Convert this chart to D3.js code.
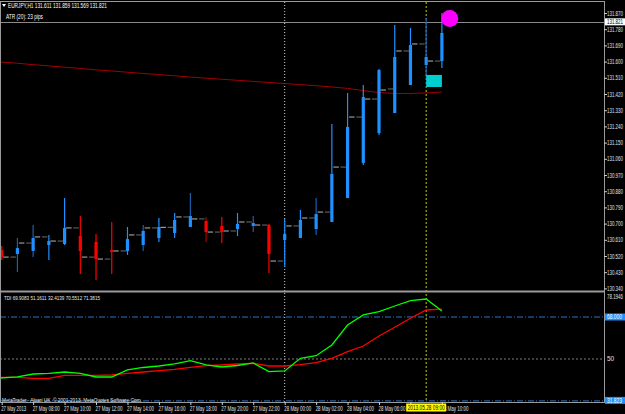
<!DOCTYPE html>
<html>
<head>
<meta charset="utf-8">
<script src="https://cdn.jsdelivr.net/npm/d3@7"></script>
<style>
  body { margin: 0; background: #000; }
  svg { display: block; font-family: "Liberation Sans", Arial, sans-serif; }
</style>
</head>
<body>
<script>
// EURJPY H1, 27 May 06:00 .. 28 May 10:00
const opens  = [130.553,130.514,130.592,130.626,130.603,130.676,130.514,130.503,130.548,130.637,130.676,130.679,130.737,130.726,130.653,130.659,130.709,130.692,130.492,130.687,130.731,130.764,131.014,131.292,131.392,131.448,131.659,131.698,131.603];
const highs  = [130.576,130.620,130.692,130.637,130.842,130.742,130.642,130.709,130.681,130.692,130.731,130.759,130.870,130.737,130.737,130.759,130.742,130.698,130.726,130.776,130.842,131.253,131.426,131.470,131.559,131.803,131.787,131.842,131.870];
const lows   = [130.498,130.431,130.514,130.498,130.581,130.420,130.387,130.420,130.526,130.548,130.598,130.620,130.681,130.598,130.592,130.631,130.653,130.426,130.459,130.620,130.637,130.709,130.842,131.026,131.192,131.314,131.470,131.514,131.564];
const closes = [130.514,130.592,130.626,130.603,130.676,130.514,130.503,130.548,130.637,130.676,130.679,130.737,130.726,130.653,130.659,130.709,130.692,130.492,130.687,130.731,130.764,131.014,131.292,131.392,131.442,131.659,131.698,131.603,131.821];
// heiken ashi style bodies drawn over the bars
const haOpens  = [130.553,130.531,130.548,130.581,130.587,130.631,130.598,130.553,130.548,130.581,130.620,130.648,130.681,130.714,130.687,130.670,130.687,130.692,130.609,130.620,130.670,130.709,130.842,131.037,131.203,131.314,131.470,131.581,131.603];
const haCloses = [130.514,130.564,130.620,130.603,130.676,130.548,130.503,130.542,130.614,130.659,130.681,130.720,130.742,130.653,130.653,130.698,130.703,130.531,130.642,130.720,130.753,130.976,131.237,131.403,131.553,131.626,131.692,131.626,131.759];
const darkWick = [0,1,1,0,0,0,0,0,0,1,0,0,1,1,0,0,1,0,0,0,1,0,0,0,0,0,0,1,0];
const maValues = [131.598,131.591,131.583,131.576,131.569,131.562,131.554,131.548,131.541,131.534,131.528,131.521,131.514,131.508,131.502,131.496,131.490,131.484,131.478,131.472,131.466,131.459,131.451,131.439,131.428,131.423,131.423,131.426,131.431];

// TDI panel
const tdiGreen = [41.86,42.29,43.57,43.87,44.43,43.79,42.29,42.29,45.29,46.36,47.00,47.86,49.27,47.43,46.57,47.21,48.29,44.56,44.86,50.30,51.41,56.00,64.57,68.86,70.27,72.71,74.99,75.71,70.55];
const tdiRed   = [42.16,42.16,41.73,41.73,43.01,43.01,43.01,43.14,43.87,44.43,44.99,45.58,46.44,47.13,47.43,47.86,48.16,47.00,47.00,47.56,48.41,50.30,53.13,55.57,59.86,63.59,67.44,71.00,71.38];

const priceTicks = [131.870,131.780,131.690,131.600,131.510,131.420,131.330,131.240,131.150,131.060,130.970,130.880,130.790,130.700,130.610,130.520,130.430,130.340];
// 08:00 on the 28th sits under the cursor label, so it stays blank
const xTickLabels = ["27 May 2013","27 May 08:00","27 May 10:00","27 May 12:00","27 May 14:00","27 May 16:00","27 May 18:00","27 May 20:00","27 May 22:00","28 May 00:00","28 May 02:00","28 May 04:00","28 May 06:00","","28 May 10:00"];
const lastPrice = 131.821;
const daySepIndex = 18;
const cursorIndex = 27;
const cursorLabel = "2013.05.28 09:00";
const tdiMax = 78.1946, tdiMin = 31.823, tdiUpper = 68.0, tdiMid = 50;

const width = 625, height = 414;
const plotRight = 604;

const svg = d3.select("body").append("svg")
  .attr("width", width).attr("height", height);
svg.append("rect").attr("width", width).attr("height", height).attr("fill", "#000");

const x = d3.scaleLinear().domain([0, 28]).range([1.7, 441.9]);
const y = d3.scaleLinear().domain([130.340, 131.870]).range([288.4, 13]);
const yT = d3.scaleLinear().domain([tdiMin, tdiMax]).range([401.4, 293.2]);

// squeeze a text to the width the terminal font takes
const fit = (sel, w) => sel.attr("textLength", w).attr("lengthAdjust", "spacingAndGlyphs");

const defs = svg.append("defs");
defs.append("clipPath").attr("id", "cmain").append("rect")
  .attr("x", 0).attr("y", 2).attr("width", plotRight).attr("height", 289);
defs.append("clipPath").attr("id", "cind").append("rect")
  .attr("x", 0).attr("y", 293).attr("width", plotRight).attr("height", 109);

// vertical separators (day + cursor)
svg.append("line")
  .attr("x1", x(daySepIndex)).attr("x2", x(daySepIndex))
  .attr("y1", 2).attr("y2", 402)
  .attr("stroke", "#d0d0d0").attr("stroke-dasharray", "1,2");
svg.append("line")
  .attr("x1", x(cursorIndex)).attr("x2", x(cursorIndex))
  .attr("y1", 2).attr("y2", 402)
  .attr("stroke", "#c8c800").attr("stroke-dasharray", "2,2");

const main = svg.append("g").attr("clip-path", "url(#cmain)");

// bid line
main.append("line")
  .attr("x1", 0).attr("x2", plotRight)
  .attr("y1", Math.round(y(lastPrice)) + 0.5).attr("y2", Math.round(y(lastPrice)) + 0.5)
  .attr("stroke", "#8a8a8a");

// moving average
main.append("path")
  .datum(maValues)
  .attr("fill", "none").attr("stroke", "#a00000").attr("stroke-width", 1)
  .attr("d", d3.line().x((d, i) => i === 0 ? 0 : x(i)).y(d => y(d)));

const idx = d3.range(opens.length);

// open / close ticks
main.append("g").selectAll("line").data(idx).join("line")
  .attr("x1", i => x(i) - 7).attr("x2", i => x(i) - 1.5)
  .attr("y1", i => y(opens[i])).attr("y2", i => y(opens[i]))
  .attr("stroke", "#5a5a5a").attr("stroke-width", 1.2);
main.append("g").selectAll("line").data(idx).join("line")
  .attr("x1", i => x(i) + 1.5).attr("x2", i => x(i) + 7)
  .attr("y1", i => y(closes[i])).attr("y2", i => y(closes[i]))
  .attr("stroke", "#9a9a9a").attr("stroke-width", 1.2);

const up = i => haCloses[i] >= haOpens[i];

// wicks
main.append("g").selectAll("line").data(idx).join("line")
  .attr("x1", i => x(i)).attr("x2", i => x(i))
  .attr("y1", i => y(highs[i])).attr("y2", i => y(lows[i]))
  .attr("stroke", i => up(i) ? (darkWick[i] ? "#1a5fb0" : "#1e90ff") : (darkWick[i] ? "#b00000" : "#ff0000"))
  .attr("stroke-width", 1.2);

// bodies
main.append("g").selectAll("rect").data(idx).join("rect")
  .attr("x", i => x(i) - 1.6).attr("width", 3.2)
  .attr("y", i => y(Math.max(haOpens[i], haCloses[i])))
  .attr("height", i => Math.max(1, Math.abs(y(haOpens[i]) - y(haCloses[i]))))
  .attr("fill", i => up(i) ? "#1e90ff" : "#ff0000");

// chart objects
main.append("rect")
  .attr("x", x(27)).attr("width", x(28) - x(27))
  .attr("y", y(131.526)).attr("height", y(131.459) - y(131.526))
  .attr("fill", "#00ced1");
main.append("circle")
  .attr("cx", x(28.5)).attr("cy", y(131.839)).attr("r", 8.5)
  .attr("fill", "#ff00ff");

// header texts
svg.append("path").attr("d", "M2,4 L6,4 L4,7 Z").attr("fill", "#fff");
svg.append("text").attr("x", 8).attr("y", 7.5).attr("font-size", 6.5).attr("fill", "#fff")
  .text("EURJPY,H1  131.611 131.859 131.569 131.821").call(fit, 99);
svg.append("text").attr("x", 6).attr("y", 19).attr("font-size", 6.5).attr("fill", "#fff")
  .text("ATR (20):    23 pips").call(fit, 37);

// indicator panel
const ind = svg.append("g").attr("clip-path", "url(#cind)");
ind.append("line")
  .attr("x1", 0).attr("x2", plotRight).attr("y1", yT(tdiUpper)).attr("y2", yT(tdiUpper))
  .attr("stroke", "#2f73c0").attr("stroke-dasharray", "6,2,1,2");
ind.append("line")
  .attr("x1", 0).attr("x2", plotRight).attr("y1", yT(tdiMid)).attr("y2", yT(tdiMid))
  .attr("stroke", "#808080").attr("stroke-dasharray", "2,2");
ind.append("line")
  .attr("x1", 0).attr("x2", plotRight).attr("y1", yT(tdiMin) - 0.5).attr("y2", yT(tdiMin) - 0.5)
  .attr("stroke", "#2f73c0").attr("stroke-dasharray", "6,2,1,2");

const tline = d3.line().x((d, i) => i === 0 ? 0 : x(i)).y(d => yT(d));
ind.append("path").datum(tdiRed)
  .attr("fill", "none").attr("stroke", "#ff0000").attr("stroke-width", 1.3).attr("d", tline);
ind.append("path").datum(tdiGreen)
  .attr("fill", "none").attr("stroke", "#00ff00").attr("stroke-width", 1.3).attr("d", tline);

svg.append("text").attr("x", 4).attr("y", 299.5).attr("font-size", 6).attr("fill", "#e8e8e8")
  .text("TDI 69.9083 51.1611 32.4139 70.5512 71.3815").call(fit, 96);
svg.append("text").attr("x", 2).attr("y", 401.5).attr("font-size", 5.5).attr("fill", "#e8e8e8")
  .text("MetaTrader - Alpari UK, © 2001-2013, MetaQuotes Software Corp.").call(fit, 140);

// frames
svg.append("line").attr("x1", 0).attr("x2", plotRight).attr("y1", 1.5).attr("y2", 1.5).attr("stroke", "#9a9a9a");
svg.append("line").attr("x1", 0).attr("x2", plotRight).attr("y1", 291.5).attr("y2", 291.5).attr("stroke", "#9a9a9a").attr("stroke-width", 2);
svg.append("line").attr("x1", 0).attr("x2", plotRight).attr("y1", 402.5).attr("y2", 402.5).attr("stroke", "#9a9a9a");
svg.append("line").attr("x1", 0.5).attr("x2", 0.5).attr("y1", 1).attr("y2", 403).attr("stroke", "#9a9a9a");
svg.append("line").attr("x1", plotRight + 0.5).attr("x2", plotRight + 0.5).attr("y1", 1).attr("y2", 403).attr("stroke", "#9a9a9a");

// price axis
const yAxis = svg.append("g")
  .attr("transform", `translate(${plotRight},0)`)
  .call(d3.axisRight(y).tickValues(priceTicks).tickSize(3).tickPadding(0).tickFormat(d3.format(".3f")));
yAxis.select(".domain").remove();
yAxis.selectAll(".tick line").attr("stroke", "#ccc");
yAxis.selectAll(".tick text").attr("fill", "#e0e0e0").attr("font-size", 6.5).attr("font-family", null)
  .call(fit, 16);

// bid label
svg.append("rect").attr("x", plotRight + 1).attr("y", y(lastPrice) - 3.5).attr("width", 20).attr("height", 7).attr("fill", "#fff");
svg.append("text").attr("x", plotRight + 3).attr("y", y(lastPrice) + 2.2).attr("font-size", 6.5).attr("fill", "#000")
  .text(d3.format(".3f")(lastPrice)).call(fit, 16);

// TDI axis labels
svg.append("text").attr("x", plotRight + 3).attr("y", 298.5).attr("font-size", 6.5).attr("fill", "#e0e0e0")
  .text(tdiMax.toFixed(4)).call(fit, 16);
svg.append("text").attr("x", plotRight + 3).attr("y", yT(tdiMid) + 2).attr("font-size", 6.5).attr("fill", "#e0e0e0").text(tdiMid);
[[tdiUpper, "68.000"], [tdiMin, "31.823"]].forEach(([v, t]) => {
  const yy = v === tdiMin ? yT(v) - 1 : yT(v);
  svg.append("rect").attr("x", plotRight + 1).attr("y", yy - 3.5).attr("width", 20).attr("height", 7).attr("fill", "#1e90ff");
  svg.append("text").attr("x", plotRight + 3).attr("y", yy + 2.2).attr("font-size", 6.5).attr("fill", "#fff")
    .text(t).call(fit, 15);
});

// time axis
const xAxis = svg.append("g")
  .attr("transform", "translate(0,402)")
  .call(d3.axisBottom(x).tickValues(d3.range(0, 29, 2)).tickSize(3).tickPadding(1)
    .tickFormat((d, i) => xTickLabels[i]));
xAxis.select(".domain").remove();
xAxis.selectAll(".tick line").attr("stroke", "#ccc");
xAxis.selectAll(".tick text").attr("fill", "#e0e0e0").attr("font-size", 6.5).attr("font-family", null)
  .attr("text-anchor", "start").attr("dx", -1)
  .each(function (d, i) { if (xTickLabels[i]) fit(d3.select(this), i === 0 ? 25 : 27); });

// cursor time label
svg.append("rect").attr("x", x(cursorIndex) - 20).attr("y", 403.5).attr("width", 40).attr("height", 8).attr("fill", "#ffff00");
svg.append("text").attr("x", x(cursorIndex) - 18.5).attr("y", 410).attr("font-size", 6.5).attr("fill", "#000")
  .text(cursorLabel).call(fit, 37);
</script>
</body>
</html>
